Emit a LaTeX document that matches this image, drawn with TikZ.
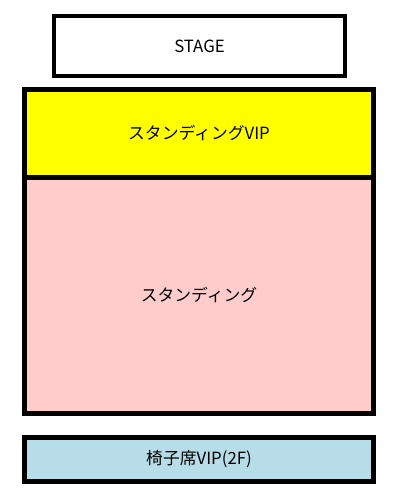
\documentclass[tikz,border=0pt]{standalone}
\usepackage{fontspec}
\setmainfont{Noto Sans CJK JP}
\definecolor{vipyellow}{RGB}{255,255,0}
\definecolor{standpink}{RGB}{255,204,204}
\definecolor{seatblue}{RGB}{183,222,232}
\begin{document}
\begin{tikzpicture}[x=1pt,y=-1pt,
  zone/.style={draw=black, rectangle, inner sep=0pt, outer sep=0pt, font=\fontsize{16.8}{19}\selectfont},
]
\useasboundingbox (0,0) rectangle (400,500);
\node[zone, line width=4pt, fill=white, minimum width=291pt, minimum height=60pt] (stage) at (199.5,46) {STAGE};
\node[zone, line width=5pt, fill=standpink, minimum width=349pt, minimum height=236.5pt] (stand) at (199,295.25) {スタンディング};
\node[zone, line width=5pt, fill=vipyellow, minimum width=349pt, minimum height=87.5pt] (vip) at (199,133.25) {スタンディングVIP};
\node[zone, line width=5pt, fill=seatblue, minimum width=349pt, minimum height=44pt] (seat) at (199,459.5) {椅子席VIP(2F)};
\end{tikzpicture}
\end{document}
